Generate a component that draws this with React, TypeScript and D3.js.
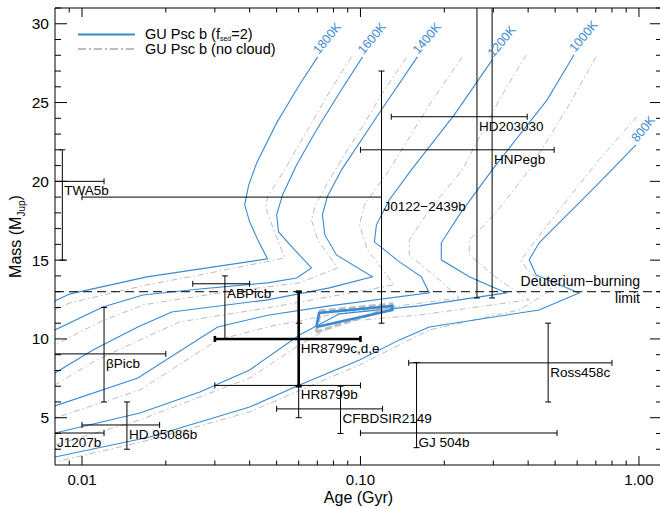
import React from 'react';
import * as d3 from 'd3';

type Pt = [number, number];

// Isotherms, GU Psc b atmosphere with clouds (f_sed=2): [age Gyr, mass Mjup]
const cloudy1800: Pt[] = [[0.0702,27.90],[0.0604,26.13],[0.0500,23.71],[0.0424,21.17],[0.0397,19.78],[0.0384,18.51],[0.0400,17.43],[0.0431,16.16],[0.0464,15.08],[0.0171,13.94],[0.00906,12.86],[0.00707,11.97]];
const cloudy1600: Pt[] = [[0.1017,27.90],[0.0841,25.62],[0.0696,23.27],[0.0590,21.05],[0.0525,19.14],[0.0500,17.87],[0.0508,16.79],[0.0580,15.65],[0.0667,14.51],[0.0590,13.87],[0.0464,13.56],[0.0265,13.17],[0.01654,12.79],[0.01189,12.03],[0.0080,10.57],[0.00707,10.06]];
const cloudy1400: Pt[] = [[0.1601,27.90],[0.1170,24.35],[0.0855,20.73],[0.0760,19.02],[0.0730,17.87],[0.0745,16.60],[0.0820,15.33],[0.1104,13.94],[0.0774,13.24],[0.0464,12.48],[0.0210,11.71],[0.01587,10.76],[0.01095,9.30],[0.0080,7.84],[0.00707,7.40]];
const cloudy1200: Pt[] = [[0.2972,27.71],[0.2172,24.22],[0.1523,20.73],[0.1270,18.83],[0.1141,17.24],[0.1122,16.16],[0.1380,14.89],[0.1654,13.94],[0.1767,12.92],[0.0774,12.10],[0.0464,11.50],[0.0307,10.76],[0.01587,7.52],[0.0080,5.75],[0.00707,5.43]];
const cloudy1000: Pt[] = [[0.5848,28.03],[0.4681,25.17],[0.2972,20.73],[0.2264,17.87],[0.1951,16.10],[0.1951,15.02],[0.2459,13.94],[0.3337,12.92],[0.1627,12.10],[0.0841,11.59],[0.0604,10.25],[0.0400,8.03],[0.0265,6.63],[0.01614,5.30],[0.0080,4.03],[0.00707,3.78]];
const cloudy800: Pt[] = [[0.9755,22.32],[0.7190,19.90],[0.4382,16.10],[0.4035,15.02],[0.4273,14.06],[0.6096,12.92],[0.4382,11.84],[0.1767,10.76],[0.1380,9.94],[0.0992,8.67],[0.0604,7.08],[0.0400,5.68],[0.01753,3.78],[0.0080,2.51],[0.00707,2.25]];

// Isotherms, cloud-free atmosphere
const clear1800: Pt[] = [[0.0928,27.90],[0.0774,25.68],[0.0646,23.27],[0.0534,20.73],[0.0464,19.02],[0.0457,18.32],[0.0488,16.92],[0.0534,15.14],[0.0265,14.06],[0.0171,13.43],[0.00906,12.29],[0.00707,11.46]];
const clear1600: Pt[] = [[0.1462,27.84],[0.1219,25.81],[0.1051,23.90],[0.0876,21.68],[0.0774,20.10],[0.0690,18.51],[0.0667,17.56],[0.0702,16.29],[0.0827,14.51],[0.0604,13.56],[0.0312,12.92],[0.01654,12.16],[0.0116,11.08],[0.0080,9.62],[0.00707,9.17]];
const clear1400: Pt[] = [[0.2320,27.90],[0.1767,24.86],[0.1270,20.73],[0.1033,18.51],[0.0992,17.24],[0.1060,15.65],[0.1324,13.43],[0.0841,12.79],[0.0464,11.97],[0.0224,11.08],[0.01614,9.94],[0.01095,8.54],[0.0080,7.08],[0.00707,6.63]];
const clear1200: Pt[] = [[0.3936,28.03],[0.3150,25.17],[0.2320,20.73],[0.1767,18.19],[0.1498,16.29],[0.1498,15.33],[0.1919,13.75],[0.2264,12.60],[0.0774,11.52],[0.0464,10.76],[0.0307,9.94],[0.01614,6.76],[0.0080,4.98],[0.00707,4.67]];
const clear1000: Pt[] = [[0.7014,27.90],[0.5613,24.86],[0.4035,20.73],[0.3022,17.87],[0.2459,16.29],[0.2459,15.33],[0.3150,13.75],[0.4035,12.48],[0.1627,11.52],[0.0841,11.08],[0.0604,9.62],[0.0400,7.52],[0.01614,4.86],[0.0080,3.27],[0.00707,2.95]];
const clear800: Pt[] = [[0.9835,24.10],[0.7190,21.37],[0.4759,17.37],[0.3776,15.02],[0.3968,14.38],[0.4877,13.11],[0.3715,11.84],[0.1767,10.57],[0.0992,8.35],[0.0400,5.37],[0.01753,3.59],[0.0080,2.19],[0.00707,1.94]];

const tempLabels = ['1800K', '1600K', '1400K', '1200K', '1000K', '800K'];
const cloudyCurves = [cloudy1800, cloudy1600, cloudy1400, cloudy1200, cloudy1000, cloudy800];
const clearCurves = [clear1800, clear1600, clear1400, clear1200, clear1000, clear800];

// GU Psc b constraint loops
const loopCloudy: Pt[] = [[0.0694,10.76],[0.0710,11.65],[0.1302,12.10],[0.1302,11.84],[0.0694,10.76]];
const loopClear: Pt[] = [[0.0694,10.44],[0.0718,11.78],[0.1294,12.22],[0.1294,11.97],[0.0694,10.44]];

// Known companions
const planetNames = ['TWA5b', 'J0122\u22122439b', 'HD203030', 'HNPegb', 'ABPicb', '\u03b2Picb', 'J1207b', 'HD 95086b', 'HR8799c,d,e', 'HR8799b', 'CFBDSIR2149', 'GJ 504b', 'Ross458c'];
const planetAge = [0.0085, 0.119, 0.262, 0.297, 0.0326, 0.012, 0.0079, 0.0145, 0.060, 0.060, 0.0848, 0.159, 0.472];
const planetAgeLo = [0.006, 0.010, 0.129, 0.100, 0.025, 0.007, 0.005, 0.010, 0.030, 0.030, 0.050, 0.100, 0.149];
const planetAgeHi = [0.012, 0.119, 0.397, 0.496, 0.040, 0.020, 0.012, 0.019, 0.100, 0.100, 0.120, 0.508, 0.800];
const planetMass = [20, 19, 24.1, 22.0, 13.5, 9.05, 4.03, 4.54, 10, 7.05, 5.56, 4.03, 8.48];
const planetMassLo = [15, 11, 12.6, 12.6, 10, 6, 3, 3, 7, 5, 4, 3.1, 6];
const planetMassHi = [22, 27, 33, 33, 14, 12, 5, 6, 13, 11, 7, 8.5, 11];
const planetBold = [false, false, false, false, false, false, false, false, true, false, false, false, false];

const xMajor = [0.01, 0.1, 1];
const xMajorLabels = ['0.01', '0.10', '1.00'];
const xMinor = [0.009, 0.02, 0.03, 0.04, 0.05, 0.06, 0.07, 0.08, 0.09, 0.2, 0.3, 0.4, 0.5, 0.6, 0.7, 0.8, 0.9];
const yMajor = [5, 10, 15, 20, 25, 30];
const yMinor = [3, 4, 6, 7, 8, 9, 11, 12, 13, 14, 16, 17, 18, 19, 21, 22, 23, 24, 26, 27, 28, 29, 31];
const deuteriumMass = 13;

const BLUE = '#3a8ad2';
const GRAY = '#bcbcbc';
const FONT = '"Liberation Sans", Arial, Helvetica, sans-serif';

export default function App() {
  const W = 660, H = 508;
  const L = 55, R = 662, T = 8, B = 465;
  const x = d3.scaleLog().domain([0.008, 1.21]).range([L, R]);
  const y = d3.scaleLinear().domain([2, 31]).range([B, T]);
  const line = d3.line<Pt>().x(d => x(d[0])).y(d => y(d[1]));
  const cap = 3;

  return (
    <svg width={W} height={H} style={{ position: 'absolute', left: 0, top: 0, background: '#fff' }} fontFamily={FONT}>
      <defs>
        <clipPath id="plot"><rect x={L} y={T} width={R - L} height={B - T} /></clipPath>
      </defs>
      <rect x={0} y={0} width={W} height={H} fill="#fff" />
      <g clipPath="url(#plot)">
        {clearCurves.map((c, i) => (
          <path key={'g' + i} d={line(c) || ''} fill="none" stroke={GRAY} strokeWidth={1} strokeDasharray="6,3,1.5,3" />
        ))}
        {cloudyCurves.map((c, i) => (
          <path key={'b' + i} d={line(c) || ''} fill="none" stroke={BLUE} strokeWidth={1.1} />
        ))}
        <path d={line(loopClear) || ''} fill="none" stroke={GRAY} strokeWidth={3} strokeDasharray="7,3" />
        <path d={line(loopCloudy) || ''} fill="none" stroke={BLUE} strokeWidth={2.6} />
        <line x1={L} x2={R} y1={y(deuteriumMass)} y2={y(deuteriumMass)} stroke="#333" strokeWidth={1.1} strokeDasharray="9,5" />
        {planetNames.map((n, i) => {
          const sw = planetBold[i] ? 2.6 : 1;
          const cx = x(planetAge[i]), cy = y(planetMass[i]);
          const xl = x(planetAgeLo[i]), xh = x(planetAgeHi[i]);
          const yl = y(planetMassLo[i]), yh = y(planetMassHi[i]);
          return (
            <g key={'p' + i} stroke="#000" strokeWidth={sw}>
              <line x1={xl} x2={xh} y1={cy} y2={cy} />
              <line x1={xl} x2={xl} y1={cy - cap} y2={cy + cap} />
              <line x1={xh} x2={xh} y1={cy - cap} y2={cy + cap} />
              <line x1={cx} x2={cx} y1={yl} y2={yh} />
              <line x1={cx - cap} x2={cx + cap} y1={yl} y2={yl} />
              <line x1={cx - cap} x2={cx + cap} y1={yh} y2={yh} />
            </g>
          );
        })}
      </g>
      {planetNames.map((n, i) => (
        <text key={'t' + i} x={Math.max(x(planetAge[i]), L) + 2} y={y(planetMass[i]) + 14} fontSize={13.5} fill="#000">{n}</text>
      ))}
      {cloudyCurves.map((c, i) => {
        const px = x(c[0][0]) + 1, py = y(c[0][1]) - 2;
        return (
          <text key={'k' + i} x={px} y={py} fontSize={12.5} fill={BLUE} transform={`rotate(-50 ${px} ${py})`}>{tempLabels[i]}</text>
        );
      })}
      <text x={640} y={286} fontSize={14} textAnchor="end">Deuterium{'\u2212'}burning</text>
      <text x={640} y={303} fontSize={14} textAnchor="end">limit</text>

      {/* axes */}
      <g stroke="#000" strokeWidth={1} fill="none">
        <line x1={L} x2={R} y1={B} y2={B} />
        <line x1={L} x2={R} y1={T} y2={T} />
        <line x1={L} x2={L} y1={T} y2={B} />
        <line x1={R} x2={R} y1={T} y2={B} />
        {xMajor.map(v => (
          <g key={'xm' + v}>
            <line x1={x(v)} x2={x(v)} y1={B} y2={B - 9} />
            <line x1={x(v)} x2={x(v)} y1={T} y2={T + 9} />
          </g>
        ))}
        {xMinor.map(v => (
          <g key={'xn' + v}>
            <line x1={x(v)} x2={x(v)} y1={B} y2={B - 4.5} />
            <line x1={x(v)} x2={x(v)} y1={T} y2={T + 4.5} />
          </g>
        ))}
        {yMajor.map(v => (
          <g key={'ym' + v}>
            <line x1={L} x2={L + 12} y1={y(v)} y2={y(v)} />
            <line x1={R} x2={R - 12} y1={y(v)} y2={y(v)} />
          </g>
        ))}
        {yMinor.map(v => (
          <g key={'yn' + v}>
            <line x1={L} x2={L + 6} y1={y(v)} y2={y(v)} />
            <line x1={R} x2={R - 6} y1={y(v)} y2={y(v)} />
          </g>
        ))}
      </g>
      {xMajor.map((v, i) => (
        <text key={'xl' + v} x={x(v)} y={485} fontSize={15} textAnchor="middle">{xMajorLabels[i]}</text>
      ))}
      {yMajor.map(v => (
        <text key={'yl' + v} x={49} y={y(v) + 5.5} fontSize={15.5} textAnchor="end">{v}</text>
      ))}
      <text x={(L + R) / 2} y={503} fontSize={16} textAnchor="middle">Age (Gyr)</text>
      <text transform={`translate(21 ${(T + B) / 2}) rotate(-90)`} fontSize={16} textAnchor="middle">
        Mass (M<tspan fontSize={10} dy={4}>Jup</tspan><tspan dy={-4}>)</tspan>
      </text>

      {/* legend */}
      <line x1={78} x2={135} y1={34.5} y2={34.5} stroke={BLUE} strokeWidth={2.2} />
      <line x1={78} x2={135} y1={49} y2={49} stroke={GRAY} strokeWidth={2} strokeDasharray="8,3,2,3" />
      <text x={145} y={39} fontSize={14.5}>GU Psc b (f<tspan fontSize={7} dy={2}>sed</tspan><tspan dy={-2}>=2)</tspan></text>
      <text x={145} y={54} fontSize={14.5}>GU Psc b (no cloud)</text>
    </svg>
  );
}
